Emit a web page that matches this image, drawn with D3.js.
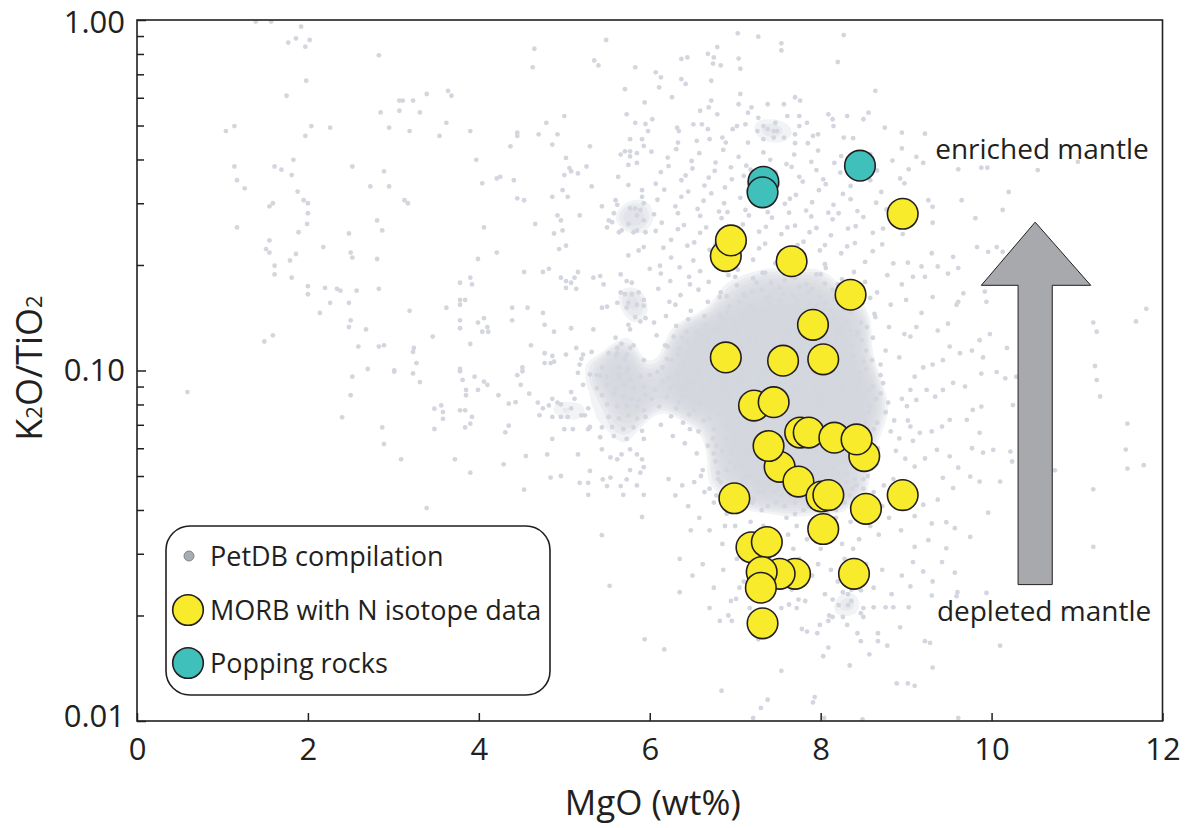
<!DOCTYPE html>
<html><head><meta charset="utf-8">
<script src="https://cdn.jsdelivr.net/npm/d3@7"></script>
<style>
body{margin:0;background:#fff}
svg{display:block}
text{font-family:"Open Sans",sans-serif;fill:#231f20}
</style>
</head><body>
<svg id="chart" width="1196" height="828"></svg>
<script>
// ---------------- data ----------------
const xTicks = [0, 2, 4, 6, 8, 10, 12];
const yTicks = [0.01, 0.1, 1];
const yTickLabels = ["0.01", "0.10", "1.00"];
const yMinorTicks = [0.02,0.03,0.04,0.05,0.06,0.07,0.08,0.09,0.2,0.3,0.4,0.5,0.6,0.7,0.8,0.9];
const legendLabels = ["PetDB compilation", "MORB with N isotope data", "Popping rocks"];
const annotations = [{text:"enriched mantle", mgo:9.34, r:0.40}, {text:"depleted mantle", mgo:9.36, r:0.0193}];
// arrow outline in data units (MgO, K2O/TiO2)
const arrowShape = [[10.31,0.0245],[10.31,0.175],[9.88,0.175],[10.51,0.265],[11.16,0.175],[10.71,0.175],[10.71,0.0245]];

// PetDB compilation [MgO wt%, K2O/TiO2]
const petdb = [
[1.39,.99],[1.57,.99],[1.92,.957],[1.77,.862],[1.86,.886],[2.02,.877],[1.97,.839],[1.98,.671],[1.75,.608],[2.83,.793],[4.65,.828],[4.63,.733],[5.49,.877],[5.35,.767],[5.40,.742],[5.83,.733],[5.71,.635],[5.94,.582],[1.04,.482],[1.14,.498],[2.04,.498],[1.97,.467],[2.26,.493],[2.85,.545],[3.07,.589],[3.11,.589],[3.23,.589],[3.07,.551],[3.31,.545],[3.39,.615],[3.64,.628],[3.68,.608],[2.95,.493],[3.19,.482],[3.62,.509],[3.54,.467],[3.90,.482],[4.45,.477],[4.45,.467],[4.37,.436],[4.70,.472],[4.79,.509],[4.92,.472],[5.00,.532],[4.86,.441],[5.30,.436],[5.73,.538],[5.83,.509],[5.95,.505],[5.77,.457],[5.91,.457],[5.93,.437],
[1.14,.382],[1.17,.349],[1.26,.331],[1.61,.382],[1.69,.374],[1.83,.399],[1.81,.361],[2.52,.382],[2.89,.370],[2.73,.335],[2.95,.335],[3.97,.399],[4.04,.342],[4.21,.353],[4.25,.357],[4.41,.349],[4.45,.310],[4.53,.306],[5.02,.404],[5.06,.378],[5.08,.370],[5.16,.365],[5.00,.361],[5.26,.382],[5.32,.335],[4.98,.327],[5.04,.313],[4.86,.313],[5.66,.413],[5.71,.422],[5.77,.422],[5.85,.417],[5.77,.408],[5.75,.386],[5.85,.391],[5.63,.357],[5.75,.338],[5.91,.327],[5.91,.313],[5.60,.306],[5.62,.297],[5.44,.294],[5.77,.290],[5.83,.290],[5.89,.287],[5.85,.277],[5.58,.281],[5.93,.300],
[1.55,.294],[1.59,.300],[1.88,.324],[1.95,.306],[2.00,.300],[2.00,.281],[1.99,.262],[1.17,.256],[1.89,.248],[3.13,.306],[3.17,.300],[2.81,.268],[2.87,.251],[2.48,.246],[4.06,.256],[4.66,.262],[4.92,.277],[4.96,.268],[5.18,.277],[4.88,.246],[4.98,.251],[5.52,.268],[5.56,.265],[5.50,.256],[5.64,.248],[5.67,.251],[5.75,.262],[5.81,.248],[5.85,.251],[5.93,.268],[5.95,.248],[5.02,.227],[4.94,.222],
[1.55,.235],[1.51,.222],[1.55,.217],[1.86,.215],[1.79,.206],[1.61,.199],[1.61,.188],[1.81,.184],[2.18,.225],[2.50,.217],[2.52,.210],[2.81,.208],[3.99,.208],[4.21,.217],[5.87,.220],[5.93,.225],[5.75,.213],[4.53,.191],[4.75,.191],[4.82,.195],[4.96,.184],[5.02,.180],[5.08,.178],[5.12,.184],[5.16,.191],[5.02,.172],[5.14,.171],[5.34,.184],[5.42,.186],[5.46,.176],[5.66,.188],[5.73,.180],[5.79,.178],[3.78,.178],[3.90,.184],[3.92,.176],
[2.00,.174],[2.00,.165],[2.20,.172],[2.34,.171],[2.38,.169],[2.57,.169],[2.83,.171],[2.26,.156],[2.48,.156],[2.14,.146],[2.50,.139],[2.48,.133],[2.68,.131],[3.19,.148],[3.62,.151],[3.78,.159],[3.84,.159],[3.78,.154],[3.78,.139],[3.78,.132],[3.99,.137],[4.06,.141],[4.04,.129],[4.10,.133],[4.11,.129],[4.39,.151],[4.39,.139],[4.57,.151],[4.75,.146],[4.77,.135],[4.88,.129],[5.08,.132],[5.34,.131],[5.44,.151],[5.50,.152],[5.62,.156],[5.66,.167],[5.71,.165],[5.79,.165],[5.87,.167],[5.75,.156],[5.85,.154],[5.93,.159],[5.93,.153],[5.73,.151],[5.83,.142],[5.89,.138],[5.95,.141],[5.75,.135],[5.77,.131],[5.60,.124],[5.67,.119],[5.81,.118],[5.62,.116],[5.77,.116],[5.62,.112],[5.73,.111],[5.52,.112],[5.60,.110],[5.71,.108],[5.93,.107],
[1.49,.121],[1.59,.126],[2.59,.117],[2.83,.117],[2.89,.118],[3.46,.125],[3.23,.113],[3.24,.116],[3.27,.105],[3.90,.119],[4.61,.118],[4.77,.112],[4.86,.110],[4.77,.105],[4.84,.105],[4.88,.106],[5.02,.111],[5.14,.116],[5.22,.111],[5.20,.108],[5.18,.104],[5.32,.113],[4.51,.102],[5.44,.102],[5.64,.102],[5.75,.101],[3.78,.101],[2.70,.101],[3.01,.100],
[0.59,.0868],[2.52,.096],[3.01,.0992],[3.23,.0981],[3.31,.0927],[2.50,.0850],[2.40,.0735],[2.87,.0688],[2.89,.0617],[3.09,.0558],[3.39,.0405],[3.48,.0778],[3.56,.0795],[3.58,.0761],[3.58,.0728],[3.48,.0681],[3.78,.0995],[3.81,.094],[3.85,.088],[3.85,.085],[3.95,.096],[3.99,.088],[4.06,.093],[4.10,.091],[3.78,.077],[3.84,.077],[3.92,.0737],[3.90,.0705],[3.84,.0688],[3.72,.0558],[3.90,.0511],[4.23,.085],[4.35,.0804],[4.43,.0812],[4.35,.0696],[4.31,.0666],[4.29,.054],[4.45,.097],[4.49,.091],[4.51,.0995],[4.59,.0859],[4.55,.0570],[4.53,.0457],[4.69,.081],[4.75,.078],[4.86,.083],[4.92,.081],[4.96,.080],[4.82,.0795],[4.71,.0745],[4.86,.0737],[4.96,.0737],[5.04,.0737],[5.00,.068],[5.10,.068],[4.86,.0638],[4.80,.0576],[4.84,.0495],[4.96,.0500],[5.08,.0868],[5.12,.083],[5.08,.078],[5.20,.0745],[5.24,.0745],[5.28,.078],[5.30,.069],[5.28,.068],[5.16,.0576],[5.30,.0517],[5.18,.0478],[5.28,.0478],[5.28,.0442],[5.44,.0339],[5.53,.0243],[5.91,.0382],
[5.16,.0985],[5.30,.0975],[5.42,.0965],[5.64,.0975],[5.73,.0995],[5.38,.097],[5.50,.096],[5.64,.096],[5.77,.094],[5.89,.096],[5.22,.091],[5.38,.089],[5.50,.091],[5.60,.089],[5.71,.091],[5.81,.089],[5.93,.090],[5.44,.085],[5.58,.086],[5.69,.084],[5.79,.083],[5.87,.082],[5.95,.085],[5.50,.080],[5.62,.079],[5.73,.0795],[5.85,.079],[5.93,.077],[5.52,.0737],[5.64,.073],[5.75,.0745],[5.85,.073],[5.95,.0737],[5.44,.0688],[5.56,.069],[5.69,.068],[5.81,.0688],[5.91,.0673],[5.42,.0645],[5.58,.065],[5.73,.0638],[5.93,.0638],[5.44,.0596],[5.54,.0565],[5.62,.0558],[5.67,.0576],[5.77,.0596],[5.85,.0576],[5.91,.0558],[5.77,.052],[5.89,.0511],[5.93,.053],[5.45,.0489],[5.54,.0495],[5.50,.0468],[5.66,.0468],[5.73,.0489],[5.85,.047],[5.69,.0442],[5.93,.0442],
[6.07,.709],[6.13,.686],[6.11,.642],[6.37,.774],[6.44,.782],[6.37,.678],[6.42,.657],[6.26,.602],[6.68,.801],[6.75,.782],[6.79,.837],[6.74,.751],[6.83,.742],[6.72,.671],[7.03,.916],[7.27,.896],[7.54,.858],[7.54,.819],[7.04,.776],[7.06,.726],[8.27,.906],[8.20,.759],[8.64,.628],[7.06,.615],[6.72,.589],[6.69,.563],[6.59,.551],[6.79,.538],[7.04,.575],[7.15,.544],[7.19,.563],[7.38,.575],[7.57,.575],[7.70,.602],[7.76,.589],[7.61,.532],[7.75,.532],[8.09,.538],[8.31,.532],[8.56,.544],[8.50,.521],[8.14,.521],[8.15,.498],[7.84,.509],[7.75,.498],[7.27,.526],[7.47,.509],[7.26,.482],[7.33,.498],[7.38,.488],[7.45,.482],[7.49,.482],[7.12,.504],[7.02,.498],[6.97,.488],[6.85,.462],[6.68,.488],[6.61,.504],[6.51,.504],[6.32,.493],[6.34,.482],[6.03,.521],[5.98,.482],[6.33,.447],[6.55,.452],[6.70,.457],[6.89,.447],[7.15,.447],[7.33,.457],[7.45,.462],[7.57,.462],[7.70,.472],[7.91,.467],[7.97,.472],[8.27,.462],[8.38,.460],[8.75,.493],[8.95,.477],[7.70,.445],[7.85,.445],
[6.02,.421],[6.21,.405],[6.31,.428],[6.49,.396],[6.58,.417],[6.77,.392],[6.86,.426],[7.04,.407],[7.13,.384],[7.33,.419],[7.41,.399],[7.60,.388],[7.69,.413],[7.89,.394],[7.97,.424],[8.16,.391],[8.24,.409],[8.47,.382],[8.58,.414],[8.84,.397],[8.95,.43],
[6.13,.368],[6.22,.383],[6.42,.36],[6.50,.377],[6.69,.355],[6.76,.371],[6.95,.38],[7.10,.359],[7.18,.374],[7.39,.353],[7.47,.368],[7.66,.381],[7.75,.357],[7.95,.373],[8.03,.351],[8.23,.367],[8.33,.378],[8.55,.356],[8.66,.372],[8.93,.353],[9.03,.375],
[6.07,.341],[6.17,.328],[6.37,.349],[6.45,.324],[6.64,.337],[6.72,.32],[6.88,.333],[6.96,.351],[7.15,.326],[7.23,.343],[7.43,.322],[7.50,.339],[7.71,.317],[7.79,.346],[7.98,.327],[8.06,.34],[8.26,.319],[8.35,.336],[8.58,.349],[8.71,.323],[8.98,.342],
[6.09,.307],[6.30,.294],[6.37,.313],[6.56,.289],[6.63,.305],[6.81,.284],[6.87,.30],[7.06,.311],[7.12,.287],[7.31,.303],[7.38,.283],[7.58,.299],[7.64,.309],[7.83,.286],[7.90,.302],[8.09,.282],[8.15,.297],[8.35,.308],[8.43,.285],[8.65,.301],[8.77,.288],[9.03,.305],
[6.05,.279],[6.14,.264],[6.33,.281],[6.40,.26],[6.59,.276],[6.66,.256],[6.84,.272],[6.91,.283],[7.09,.261],[7.16,.277],[7.36,.257],[7.43,.273],[7.63,.282],[7.70,.259],[7.89,.275],[7.95,.255],[8.14,.27],[8.21,.281],[8.41,.258],[8.50,.274],[8.73,.254],[8.84,.27],
[6.07,.25],[6.25,.236],[6.33,.253],[6.52,.232],[6.59,.247],[6.77,.229],[6.84,.244],[7.03,.255],[7.09,.234],[7.28,.249],[7.35,.23],[7.54,.245],[7.61,.256],[7.80,.233],[7.87,.248],[8.05,.228],[8.12,.243],[8.32,.254],[8.40,.231],[8.61,.247],[8.72,.229],[8.96,.245],
[6.16,.224],[6.25,.21],[6.44,.227],[6.51,.206],[6.70,.221],[6.77,.203],[6.95,.218],[7.02,.229],[7.21,.207],[7.28,.223],[7.47,.202],[7.54,.218],[7.73,.228],[7.80,.205],[7.99,.22],[8.05,.201],[8.24,.216],[8.31,.226],[8.52,.204],[8.61,.219],[8.85,.202],
[6.00,.195],[6.10,.171],[6.13,.189],[6.23,.157],[6.24,.18],[6.35,.197],[6.36,.164],[6.46,.185],[6.48,.148],[6.57,.17],[6.59,.192],[6.68,.157],[6.69,.179],[6.78,.198],[6.82,.144],[6.83,.167],[6.92,.187],[6.93,.152],[7.02,.175],[7.03,.194],[7.11,.14],[7.12,.163],[7.21,.183],[7.22,.149],[7.31,.17],[7.32,.19],[7.41,.155],[7.42,.178],[7.51,.199],[7.55,.143],[7.56,.165],[7.65,.186],[7.66,.151],[7.75,.173],[7.76,.193],[7.85,.146],[7.86,.168],[7.95,.188],[7.96,.154],[8.05,.177],[8.06,.196],[8.15,.142],[8.16,.16],[8.25,.182],[8.27,.149],[8.37,.171],[8.39,.191],[8.49,.156],[8.52,.179],[8.63,.145],[8.66,.167],[8.78,.187],[8.82,.154],[8.95,.176],[9.00,.159],
[6.05,.137],[6.08,.126],[6.19,.143],[6.21,.117],[6.31,.134],[6.33,.111],[6.43,.129],[6.45,.14],[6.54,.12],[6.56,.105],[6.65,.135],[6.66,.116],[6.75,.13],[6.76,.102],[6.85,.141],[6.86,.121],[6.94,.11],[6.99,.132],[7.00,.117],[7.09,.137],[7.10,.106],[7.18,.124],[7.23,.14],[7.24,.113],[7.33,.131],[7.34,.101],[7.43,.119],[7.48,.138],[7.49,.109],[7.58,.127],[7.63,.142],[7.64,.115],[7.69,.104],[7.78,.133],[7.79,.12],[7.88,.139],[7.89,.108],[7.98,.128],[7.99,.113],[8.08,.136],[8.09,.103],[8.18,.122],[8.23,.141],[8.25,.111],[8.35,.13],[8.37,.117],[8.47,.137],[8.50,.106],[8.61,.124],[8.64,.142],[8.76,.114],[8.80,.133],[8.92,.109],[8.98,.127],
[6.12,.199],[6.30,.154],[6.47,.176],[6.64,.143],[6.82,.162],[6.99,.135],[7.17,.153],[7.34,.146],[7.52,.158],[7.69,.139],[7.86,.156],[8.04,.148],[8.22,.132],[8.40,.152],[8.58,.161],[6.20,.108],[6.38,.124],[6.56,.10],[6.74,.113],[6.90,.146],[7.08,.10],[7.25,.121],[7.42,.143],[7.60,.101],[7.78,.115],[7.95,.143],[8.13,.118],[8.30,.101],[8.48,.122],[8.70,.104],[6.60,.126],[6.95,.119],[7.30,.109],[7.65,.129],[8.00,.10],[8.35,.146],
[6.00,.097],[6.06,.088],[6.11,.079],[6.15,.093],[6.20,.084],[6.25,.074],[6.29,.091],[6.34,.081],[6.39,.071],[6.43,.096],[6.48,.086],[6.52,.077],[6.57,.067],[6.61,.092],[6.66,.083],[6.70,.073],[6.74,.064],[6.79,.098],[6.83,.088],[6.87,.078],[6.92,.069],[6.96,.06],[7.00,.094],[7.05,.084],[7.09,.075],[7.13,.066],[7.17,.057],[7.22,.099],[7.26,.089],[7.30,.08],[7.34,.071],[7.38,.062],[7.42,.054],[7.47,.095],[7.51,.085],[7.55,.076],[7.59,.068],[7.63,.059],[7.68,.052],[7.72,.091],[7.76,.082],[7.80,.072],[7.84,.064],[7.88,.056],[7.93,.097],[7.97,.087],[8.01,.078],[8.05,.069],[8.10,.061],[8.14,.053],[8.19,.093],[8.23,.083],[8.28,.074],[8.33,.066],[8.38,.058],[8.43,.09],[8.48,.08],[8.53,.071],[8.58,.063],[8.64,.055],[8.70,.086],[8.76,.076],[8.82,.067],[8.88,.059],[8.95,.083],[9.02,.072],[9.08,.063],
[6.02,.083],[6.09,.099],[6.13,.07],[6.22,.095],[6.27,.065],[6.31,.078],[6.37,.089],[6.41,.062],[6.46,.075],[6.50,.093],[6.55,.058],[6.59,.08],[6.64,.099],[6.68,.061],[6.72,.087],[6.77,.055],[6.81,.075],[6.85,.094],[6.90,.052],[6.94,.082],[6.98,.072],[7.03,.063],[7.07,.09],[7.11,.054],[7.15,.08],[7.20,.07],[7.24,.061],[7.28,.095],[7.32,.052],[7.36,.086],[7.40,.076],[7.45,.066],[7.49,.058],[7.53,.092],[7.57,.081],[7.61,.072],[7.66,.063],[7.70,.055],[7.74,.098],[7.78,.087],[7.82,.078],[7.86,.069],[7.91,.06],[7.95,.052],[7.99,.092],[8.03,.083],[8.08,.074],[8.12,.065],[8.17,.057],[8.21,.099],[8.26,.088],[8.31,.079],[8.36,.07],[8.41,.062],[8.46,.095],[8.51,.085],[8.56,.076],[8.62,.068],[8.67,.06],[8.73,.092],[8.79,.081],[8.86,.072],[8.92,.064],[8.99,.056],[9.05,.088],
[6.42,.091],[6.47,.068],[6.53,.112],[6.58,.085],[6.63,.072],[6.67,.104],[6.71,.094],[6.73,.079],[6.78,.061],[6.80,.118],[6.84,.101],[6.86,.083],[6.88,.07],[6.91,.092],[6.93,.108],[6.97,.077],[6.99,.088],[7.01,.065],[7.04,.103],[7.06,.071],[7.08,.096],[7.10,.082],[7.12,.113],[7.14,.061],[7.16,.089],[7.19,.074],[7.21,.105],[7.23,.067],[7.25,.094],[7.27,.078],[7.29,.117],[7.31,.058],[7.33,.086],[7.35,.099],[7.37,.069],[7.39,.11],[7.41,.08],[7.43,.091],[7.45,.062],[7.47,.104],[7.50,.073],[7.52,.088],[7.54,.115],[7.56,.064],[7.58,.097],[7.60,.079],[7.62,.107],[7.64,.07],[7.66,.09],[7.69,.06],[7.71,.101],[7.73,.077],[7.75,.112],[7.77,.066],[7.79,.094],[7.81,.084],[7.83,.106],[7.85,.059],[7.87,.075],[7.90,.099],[7.92,.068],[7.94,.089],[7.96,.113],[7.98,.063],[8.00,.081],[8.02,.104],[8.04,.071],[8.07,.094],[8.09,.058],[8.11,.086],[8.13,.109],[8.16,.068],[8.18,.078],[8.20,.101],[8.23,.062],[8.25,.091],[8.28,.071],[8.30,.107],[8.33,.082],[8.36,.06],[8.39,.097],[8.42,.074],[8.45,.087],[8.49,.066],[8.53,.101],[8.57,.079],[8.61,.09],[8.66,.071],
[6.15,.102],[6.18,.118],[6.24,.089],[6.26,.107],[6.28,.125],[6.32,.097],[6.35,.115],[6.38,.084],[6.40,.104],[6.44,.121],[6.46,.093],[6.50,.11],[6.53,.081],[6.55,.129],[6.57,.098],[6.60,.116],[6.62,.088],[6.65,.107],[6.68,.124],[6.70,.095],[6.72,.112],[6.75,.086],[6.77,.103],[6.80,.131],[6.82,.096],[6.84,.115],[6.87,.089],[6.89,.124],[6.91,.101],[6.94,.085],[6.96,.112],
[7.00,.105],[7.03,.128],[7.05,.092],[7.08,.116],[7.10,.077],[7.13,.099],[7.15,.133],[7.18,.086],[7.20,.11],[7.23,.071],[7.25,.126],[7.28,.098],[7.30,.083],[7.33,.112],[7.35,.064],[7.38,.092],[7.40,.135],[7.43,.075],[7.45,.118],[7.48,.087],[7.50,.105],[7.53,.069],[7.55,.097],[7.58,.13],[7.60,.084],[7.63,.112],[7.65,.074],[7.68,.095],[7.70,.122],[7.73,.067],[7.75,.088],[7.78,.107],[7.80,.134],[7.83,.078],[7.85,.098],[7.88,.118],[7.90,.071],[7.93,.092],[7.95,.127],[7.98,.083],[8.00,.109],[8.03,.064],[8.05,.089],[8.08,.122],[8.10,.079],[8.13,.099],[8.15,.066],[8.18,.114],[8.20,.087],[8.23,.128],[8.25,.076],[8.28,.096],[8.30,.118],[8.33,.07],[8.35,.09],[8.38,.11],[8.40,.081],[8.43,.129],[8.46,.099],[8.50,.074],[8.53,.114],[8.56,.088],[8.60,.107],[8.65,.083],[8.70,.097],
[6.90,.064],[6.95,.058],[7.00,.053],[7.05,.067],[7.10,.049],[7.15,.059],[7.20,.054],[7.25,.064],[7.30,.047],[7.35,.056],[7.40,.051],[7.45,.06],[7.50,.046],[7.55,.054],[7.60,.063],[7.65,.05],[7.70,.058],[7.75,.047],[7.80,.062],[7.85,.053],[7.90,.046],[7.95,.059],[8.00,.05],[8.05,.064],[8.10,.048],[8.15,.057],[8.20,.045],[8.25,.061],[8.30,.051],[8.35,.064],[8.40,.049],[8.45,.058],[8.50,.046],[8.55,.061],[6.75,.068],[6.80,.051],[6.85,.059],[6.70,.046],
[7.10,.165],[7.25,.178],[7.40,.162],[7.58,.181],[7.72,.158],[7.90,.171],[8.05,.156],[8.20,.176],[7.00,.185],[7.35,.19],[7.70,.184],[8.00,.188],
[6.62,.052],[6.75,.058],[6.83,.048],[6.94,.055],[7.02,.046],[7.10,.057],[7.18,.05],[7.26,.055],[7.33,.045],[7.41,.058],[7.49,.049],[7.57,.056],[7.65,.046],[7.73,.053],[7.81,.059],[7.89,.05],[7.97,.056],[8.05,.047],[8.13,.058],[8.21,.051],[8.29,.055],[8.37,.046],[8.45,.057],[8.55,.05],[8.65,.054],[7.06,.04],[7.22,.043],[7.38,.041],[7.54,.044],[7.70,.042],[7.86,.041],[8.02,.043],[8.18,.04],[8.34,.044],
[6.70,.122],[6.85,.131],[6.97,.126],[7.08,.145],[7.15,.119],[7.27,.134],[7.38,.124],[7.46,.151],[7.56,.121],[7.67,.136],[7.74,.147],[7.84,.125],[7.93,.133],[8.03,.121],[8.12,.149],[8.20,.127],[8.31,.138],[8.43,.126],[8.54,.133],[6.90,.163],[7.05,.157],[7.20,.168],[7.37,.16],[7.52,.172],[7.68,.163],[7.83,.176],[7.99,.162],[8.14,.17],[8.30,.158],
[6.22,.049],[6.30,.044],[6.38,.047],[6.45,.041],[6.52,.048],[6.58,.038],[6.64,.045],[6.70,.035],[6.75,.042],[6.80,.049],[6.85,.032],[6.90,.039],[6.95,.046],[7.00,.036],[7.05,.031],[7.10,.043],[7.14,.05],[7.18,.037],[7.23,.033],[7.27,.045],[7.31,.04],[7.35,.03],[7.40,.047],[7.44,.035],[7.48,.042],[7.52,.032],[7.56,.049],[7.60,.038],[7.64,.044],[7.68,.031],[7.72,.036],[7.76,.046],[7.80,.04],[7.84,.033],[7.88,.048],[7.92,.037],[7.96,.043],[8.00,.031],[8.04,.05],[8.08,.039],[8.12,.034],[8.16,.045],[8.20,.041],[8.25,.032],[8.30,.048],[8.35,.037],[8.40,.043],[8.45,.033],[8.50,.049],[8.56,.039],[8.62,.045],[8.68,.034],[8.74,.047],[8.80,.038],[8.87,.043],[8.94,.035],[9.02,.047],
[6.60,.05],[6.78,.044],[6.97,.041],[7.08,.048],[7.20,.042],[7.33,.036],[7.46,.045],[7.58,.041],[7.70,.039],[7.82,.047],[7.94,.035],[8.06,.044],[8.18,.038],[8.28,.042],[8.42,.047],[8.58,.036],[8.72,.041],[6.48,.035],[6.88,.036],[7.25,.048],[7.62,.034],[8.00,.046],[8.38,.031],[8.85,.049],
[6.35,.029],[6.50,.026],[6.62,.028],[6.75,.024],[6.86,.027],[6.95,.022],[7.02,.029],[7.10,.025],[7.17,.021],[7.24,.028],[7.32,.023],[7.40,.029],[7.47,.026],[7.54,.021],[7.61,.027],[7.68,.024],[7.75,.029],[7.82,.022],[7.90,.026],[7.97,.028],[8.05,.023],[8.12,.027],[8.20,.025],[8.28,.029],[8.36,.022],[8.45,.026],[8.53,.028],[8.62,.024],[8.72,.027],[8.83,.023],[8.95,.026],[6.70,.021],[7.05,.024],[7.36,.020],[7.72,.021],[8.10,.020],[8.50,.021],
[6.35,.0233],[5.94,.0171],[6.17,.0160],[6.84,.0122],[6.82,.0193],[6.92,.0200],[6.96,.0193],[7.01,.0223],[7.30,.0109],[7.38,.0115],[7.21,.0102],[7.27,.0171],[7.47,.0190],[7.39,.0222],[7.54,.0139],[7.63,.0215],[7.74,.0222],[7.66,.0237],[7.78,.0183],[7.84,.0180],[7.96,.0178],[7.99,.0188],[7.93,.0117],[7.91,.0113],[8.04,.0102],[8.03,.0153],[8.09,.0162],[8.09,.0193],[8.14,.0198],[8.14,.0222],[8.21,.0214],[8.26,.0198],[8.31,.0188],[8.32,.0214],[8.32,.0230],[8.26,.0233],[8.36,.0237],[8.47,.0236],[8.34,.0144],[8.43,.0178],[8.47,.0169],[8.47,.0203],[8.50,.0198],[8.57,.0155],[8.49,.0101],[8.62,.0211],[8.67,.0178],[8.67,.0169],[8.78,.0164],[8.76,.0211],[8.85,.0211],[9.03,.0211],[8.93,.0185],[8.89,.0128],[9.02,.0128],[9.10,.0126],[9.22,.0169],[9.28,.0167],[9.31,.0142],[9.30,.0228],[9.60,.0233],[10.10,.0164],[9.61,.0102],[10.87,.0209],
[11.81,.150],[11.69,.138],[11.19,.137],[11.23,.129],[11.21,.103],[11.23,.0939],[11.27,.0843],[11.59,.0705],[11.57,.0595],[11.59,.0525],[11.78,.0537],[11.19,.0458],[11.19,.0314],[10.74,.0519],[9.22,.474],[9.12,.407],[9.20,.391],[9.61,.375],[9.88,.379],[9.95,.379],[10.54,.373],[11.01,.394],[10.20,.323],[10.13,.287],[9.65,.306],[9.81,.272],[9.31,.293],[9.26,.306],[9.31,.264],[9.83,.225],[9.96,.218],[10.06,.225],[10.13,.218],[10.16,.207],[9.55,.211],[9.49,.189],[9.61,.196],[9.30,.216],[9.02,.203],[9.18,.198],[9.37,.198],[9.08,.185],[9.22,.185],[9.92,.168],[9.94,.157],[9.67,.166],[9.61,.157],[9.59,.154],[9.31,.162],[9.18,.146],[9.49,.136],[9.37,.130],[9.12,.133],[9.05,.125],[9.98,.127],[9.86,.122],[9.77,.114],[9.63,.112],[9.51,.117],[9.43,.107],[9.31,.104],[9.20,.102],[9.10,.096],[10.18,.116],[9.90,.109],[9.88,.098],[10.06,.099],[10.16,.095],[10.29,.096],[10.25,.0797],[9.69,.0900],[9.55,.0922],[9.43,.0880],[9.34,.0842],[9.24,.0880],[9.12,.0824],[9.01,.0791],[9.78,.0772],[9.88,.0789],[9.71,.0723],[9.51,.0723],[9.42,.0692],[9.30,.0670],[9.16,.0664],[9.05,.0692],[9.86,.0664],[9.77,.0600],[9.90,.0583],[10.02,.0594],[10.22,.0587],[10.24,.0550],[10.10,.0482],[9.86,.0482],[9.75,.0498],[9.61,.0528],[9.51,.0569],[9.36,.0594],[9.22,.0561],[9.10,.0532],[9.43,.0494],[9.55,.0462],[9.37,.0428],[9.20,.0414],[9.10,.0384],[9.30,.0366],[9.47,.0369],[9.57,.0355],[9.75,.0335],[9.96,.0393],[9.26,.0328],[9.10,.0314],[9.47,.0311],[9.42,.0284],[9.08,.0284],[9.20,.0267],[9.57,.0265],[9.31,.0250],[9.05,.0242],[9.94,.0232],[9.59,.0227]
];

// MORB with N isotope data [MgO, K2O/TiO2] (draw order: later on top)
const morb = [
[8.96,.280],[6.89,.212],[6.95,.235],[7.66,.205],[8.35,.1645],[7.91,.135],[6.89,.109],[7.56,.1067],[8.03,.1076],
[7.22,.0794],[7.45,.0812],[7.76,.0665],[7.86,.0665],[8.16,.0643],[8.51,.0570],[8.42,.0636],[7.52,.0531],[7.39,.0609],
[7.74,.0482],[8.01,.0437],[8.09,.0441],[6.99,.0432],[8.53,.0403],[8.96,.0441],[8.03,.0353],[7.19,.0313],[7.37,.0324],
[7.70,.0263],[7.52,.0263],[7.31,.0266],[7.30,.0240],[8.39,.0263],[7.32,.0190]
];
// Popping rocks
const popping = [[8.46,.384],[7.33,.3456],[7.32,.3224]];

// ---------------- drawing ----------------
const W = 1196, H = 828;
const L = 137, R = 1162.5, T = 20, B = 721;
const ink = "#231f20";
const grayDot = "#d3d6de";
const svg = d3.select("#chart");
const x = d3.scaleLinear().domain([0, 12]).range([L, R]);
const y = d3.scaleLog().domain([0.01, 1]).range([B, T]);

svg.append("rect").attr("width", W).attr("height", H).attr("fill", "#fff");

const clip = svg.append("clipPath").attr("id", "plotclip");
clip.append("rect").attr("x", L).attr("y", T).attr("width", R - L).attr("height", B - T);
const plot = svg.append("g").attr("clip-path", "url(#plotclip)");

// the over-plotted core of the compilation: a density surface of the same points,
// drawn as stacked translucent layers so coverage builds up where dots overlap
const dens = d3.contourDensity()
  .x(d => x(d[0])).y(d => y(d[1]))
  .size([W, H]).bandwidth(13).thresholds(40)(petdb);
const maxV = d3.max(dens, c => c.value);
const layers = dens.filter(c => c.value >= maxV * 0.42);
plot.append("g").selectAll("path").data(layers).join("path")
  .attr("d", d3.geoPath()).attr("fill", grayDot).attr("fill-opacity", 0.3);

plot.append("g").selectAll("circle").data(petdb).join("circle")
  .attr("cx", d => x(d[0])).attr("cy", d => y(d[1])).attr("r", 2.4).attr("fill", grayDot);

// arrow annotation
const arrowLine = d3.line().x(d => x(d[0])).y(d => y(d[1]));
svg.append("path").attr("d", arrowLine(arrowShape) + "Z")
  .attr("fill", "#a7a9ac").attr("stroke", ink).attr("stroke-width", 1);

svg.selectAll("text.ann").data(annotations).join("text").attr("class", "ann")
  .attr("x", d => x(d.mgo)).attr("y", d => y(d.r))
  .attr("font-size", 28).text(d => d.text);

// data circles
svg.append("g").selectAll("circle").data(morb).join("circle")
  .attr("cx", d => x(d[0])).attr("cy", d => y(d[1])).attr("r", 15.3)
  .attr("fill", "#f7eb2b").attr("stroke", ink).attr("stroke-width", 1.6);
svg.append("g").selectAll("circle").data(popping).join("circle")
  .attr("cx", d => x(d[0])).attr("cy", d => y(d[1])).attr("r", 15.3)
  .attr("fill", "#40c0bb").attr("stroke", ink).attr("stroke-width", 1.6);

// axes
const xAxis = svg.append("g").attr("transform", `translate(0,${B})`)
  .call(d3.axisBottom(x).tickValues(xTicks).tickSize(-8).tickSizeOuter(0).tickPadding(17).tickFormat(d3.format("d")));
const yMinor = svg.append("g").attr("transform", `translate(${L},0)`)
  .call(d3.axisLeft(y).tickValues(yMinorTicks).tickSize(-7).tickSizeOuter(0).tickFormat(""));
const yAxis = svg.append("g").attr("transform", `translate(${L},0)`)
  .call(d3.axisLeft(y).tickValues(yTicks).tickSize(-9).tickSizeOuter(0).tickPadding(12).tickFormat((d, i) => yTickLabels[i]));
[xAxis, yMinor, yAxis].forEach(g => {
  g.select(".domain").remove();
  g.selectAll("line").attr("stroke", ink).attr("stroke-width", 1.5);
  g.selectAll("text").attr("font-family", "'Open Sans', sans-serif").attr("font-size", 31).attr("fill", ink);
});
yAxis.selectAll(".tick text").attr("dy", d => d === 0.01 ? "0.18em" : (d === 1 ? "0.40em" : "0.32em"));

// frame
svg.append("rect").attr("x", L).attr("y", T).attr("width", R - L).attr("height", B - T)
  .attr("fill", "none").attr("stroke", ink).attr("stroke-width", 1.6);

// axis titles
svg.append("text").attr("x", (L + R) / 2 + 3).attr("y", 815).attr("text-anchor", "middle")
  .attr("font-size", 35).text("MgO (wt%)");
const yt = svg.append("text").attr("transform", "translate(42,368) rotate(-90)")
  .attr("text-anchor", "middle").attr("font-size", 36);
yt.append("tspan").text("K");
yt.append("tspan").attr("font-size", 22).text("2");
yt.append("tspan").text("O/TiO");
yt.append("tspan").attr("font-size", 22).text("2");

// legend
const lg = svg.append("g");
lg.append("rect").attr("x", 166).attr("y", 526).attr("width", 384).attr("height", 169).attr("rx", 24)
  .attr("fill", "#fff").attr("stroke", ink).attr("stroke-width", 1.6);
lg.append("circle").attr("cx", 189).attr("cy", 556).attr("r", 5).attr("fill", "#a8acb4").attr("stroke", "#6f7176").attr("stroke-width", 0.8);
lg.append("circle").attr("cx", 188).attr("cy", 610).attr("r", 15.3).attr("fill", "#f7eb2b").attr("stroke", ink).attr("stroke-width", 1.6);
lg.append("circle").attr("cx", 188).attr("cy", 663).attr("r", 15.3).attr("fill", "#40c0bb").attr("stroke", ink).attr("stroke-width", 1.6);
lg.selectAll("text").data(legendLabels).join("text")
  .attr("x", 210).attr("y", (d, i) => [566, 620, 673][i]).attr("font-size", 27).text(d => d);
</script>
</body></html>
